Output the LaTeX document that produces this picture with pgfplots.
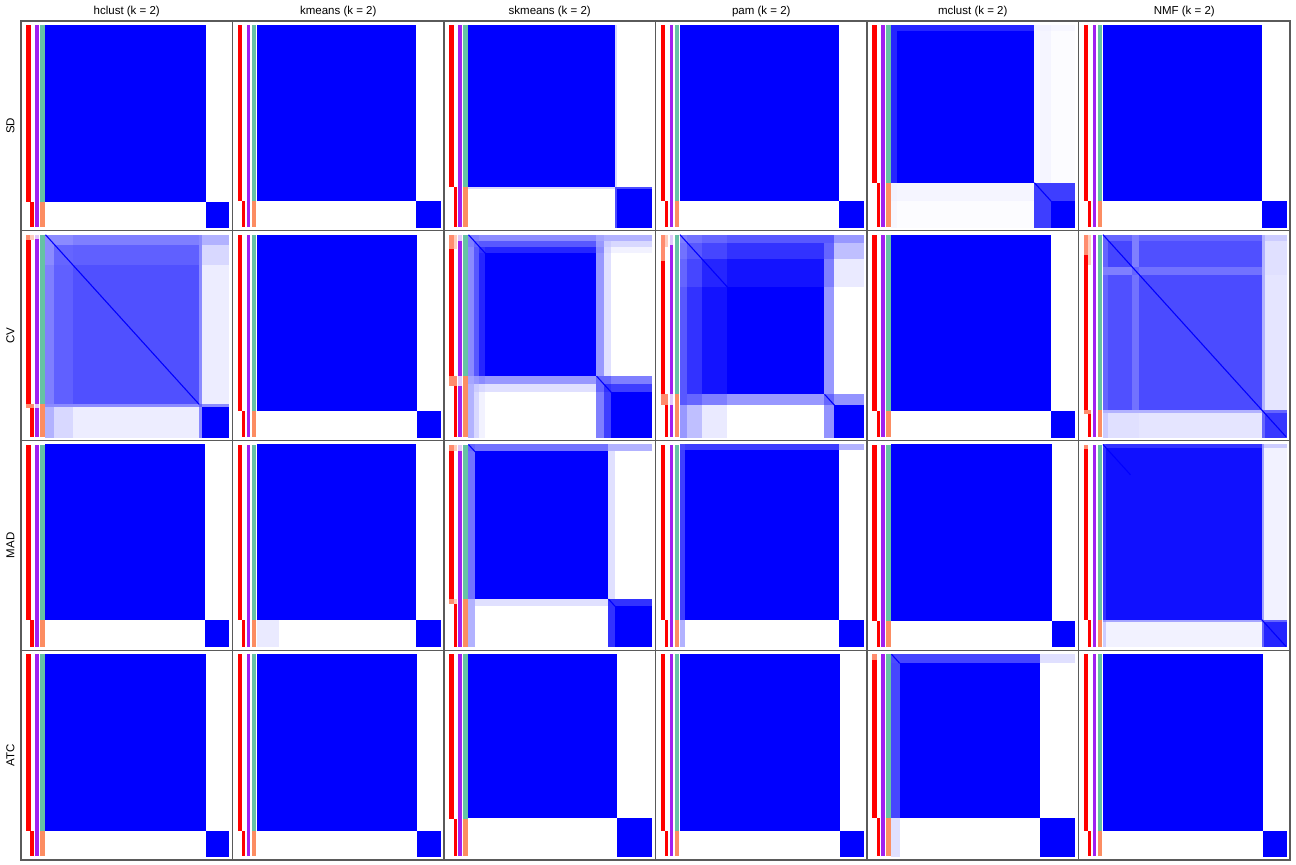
\documentclass[border=0pt]{standalone}
\usepackage{fontspec}
\setmainfont{Liberation Sans}
\usepackage{pgfplots}
\pgfplotsset{compat=1.18}
\usepgfplotslibrary{groupplots}

\definecolor{frame}{RGB}{90,90,90}
\definecolor{cred}{RGB}{255,0,0}
\definecolor{csalmon}{RGB}{255,140,110}
\definecolor{clsalmon}{RGB}{255,205,190}
\definecolor{cpurple}{RGB}{160,32,240}
\definecolor{clpurple}{RGB}{225,200,250}
\definecolor{cgreen}{RGB}{102,194,165}
\definecolor{corange}{RGB}{252,141,98}

% one filled box in heatmap units (x and y run 0..1 over the heatmap)
\newcommand{\annrect}[5]{\addplot[fill=#5, draw=none] coordinates {(#1,#3) (#2,#3) (#2,#4) (#1,#4)} -- cycle;}
% the four annotation columns left of the heatmap
\newcommand{\colA}[3]{\annrect{-0.1040}{-0.0815}{#1}{#2}{#3}}
\newcommand{\colB}[3]{\annrect{-0.0820}{-0.0650}{#1}{#2}{#3}}
\newcommand{\colC}[3]{\annrect{-0.0550}{-0.0378}{#1}{#2}{#3}}
\newcommand{\colD}[3]{\annrect{-0.0276}{-0.0052}{#1}{#2}{#3}}
\newcommand{\annot}[1]{\colA{0}{#1}{cred}\colB{#1}{1}{cred}\colC{0}{1}{cpurple}\colD{0}{#1}{cgreen}\colD{#1}{1}{corange}}
\newcommand{\diag}[2]{\addplot[blue, line width=1.1pt] coordinates {(#1,#1) (#2,#2)};}

\pgfplotsset{hm/.style={surf, shader=flat corner, mesh/cols=#1, point meta=explicit}}

\begin{document}
\begin{tikzpicture}
\begin{groupplot}[
  group style={group size=6 by 4, horizontal sep=0pt, vertical sep=0pt, group name=G},
  width=211.5pt, height=209.75pt, scale only axis,
  xmin=-0.1339, xmax=1.0219, ymin=-0.0198, ymax=1.0186, y dir=reverse,
  xtick=\empty, ytick=\empty,
  axis line style={draw=frame, line width=1.3pt},
  axis on top,
  colormap={wb}{rgb255=(255,255,255) rgb255=(0,0,255)},
  point meta min=0, point meta max=1,
  title style={font=\fontsize{11.5}{13}\selectfont, inner sep=0pt, yshift=-2pt},
  ylabel style={font=\fontsize{11.5}{13}\selectfont, at={(axis description cs:-0.03,0.5)}, anchor=south, inner sep=0pt},
]
% ---------------- SD ----------------
\nextgroupplot[title={hclust (k = 2)}, ylabel={SD}]
\addplot[hm=3] table[meta=c, row sep=\\] {x y c\\
0 0 1\\ .876 0 0\\ 1 0 0\\
0 .876 0\\ .876 .876 1\\ 1 .876 0\\
0 1 0\\ .876 1 0\\ 1 1 0\\};
\annot{.876}

\nextgroupplot[title={kmeans (k = 2)}]
\addplot[hm=3] table[meta=c, row sep=\\] {x y c\\
0 0 1\\ .871 0 0\\ 1 0 0\\
0 .871 0\\ .871 .871 1\\ 1 .871 0\\
0 1 0\\ .871 1 0\\ 1 1 0\\};
\annot{.871}

\nextgroupplot[title={skmeans (k = 2)}]
\addplot[hm=4] table[meta=c, row sep=\\] {x y c\\
0 0 1\\ .803 0 .15\\ .812 0 0\\ 1 0 0\\
0 .803 .15\\ .803 .803 .7\\ .812 .803 .7\\ 1 .803 0\\
0 .812 0\\ .803 .812 .7\\ .812 .812 1\\ 1 .812 0\\
0 1 0\\ .803 1 0\\ .812 1 0\\ 1 1 0\\};
\annot{.803}

\nextgroupplot[title={pam (k = 2)}]
\addplot[hm=3] table[meta=c, row sep=\\] {x y c\\
0 0 1\\ .871 0 0\\ 1 0 0\\
0 .871 0\\ .871 .871 1\\ 1 .871 0\\
0 1 0\\ .871 1 0\\ 1 1 0\\};
\annot{.871}

\nextgroupplot[title={mclust (k = 2)}]
\addplot[hm=5] table[meta=c, row sep=\\] {x y c\\
0 0 .85\\ .03 0 .85\\ .781 0 .05\\ .872 0 .03\\ 1 0 0\\
0 .03 .85\\ .03 .03 1\\ .781 .03 .04\\ .872 .03 .01\\ 1 .03 0\\
0 .781 .05\\ .03 .781 .04\\ .781 .781 .75\\ .872 .781 .75\\ 1 .781 0\\
0 .872 .03\\ .03 .872 .01\\ .781 .872 .75\\ .872 .872 1\\ 1 .872 0\\
0 1 0\\ .03 1 0\\ .781 1 0\\ .872 1 0\\ 1 1 0\\};
\diag{.781}{.872}
\annot{.781}

\nextgroupplot[title={NMF (k = 2)}]
\addplot[hm=3] table[meta=c, row sep=\\] {x y c\\
0 0 1\\ .871 0 0\\ 1 0 0\\
0 .871 0\\ .871 .871 1\\ 1 .871 0\\
0 1 0\\ .871 1 0\\ 1 1 0\\};
\annot{.871}

% ---------------- CV ----------------
\nextgroupplot[ylabel={CV}]
\addplot[hm=6] table[meta=c, row sep=\\] {x y c\\
0 0 .45\\ .05 0 .45\\ .15 0 .5\\ .84 0 .45\\ .855 0 .3\\ 1 0 0\\
0 .05 .45\\ .05 .05 .6\\ .15 .05 .62\\ .84 .05 .45\\ .855 .05 .15\\ 1 .05 0\\
0 .15 .5\\ .05 .15 .62\\ .15 .15 .68\\ .84 .15 .45\\ .855 .15 .07\\ 1 .15 0\\
0 .84 .45\\ .05 .84 .45\\ .15 .84 .45\\ .84 .84 .6\\ .855 .84 .45\\ 1 .84 0\\
0 .855 .3\\ .05 .855 .15\\ .15 .855 .07\\ .84 .855 .45\\ .855 .855 1\\ 1 .855 0\\
0 1 0\\ .05 1 0\\ .15 1 0\\ .84 1 0\\ .855 1 0\\ 1 1 0\\};
\diag{0}{.84}
\annot{.84}
\colA{0}{.025}{csalmon}\colB{0}{.025}{clsalmon}\colC{0}{.02}{clpurple}
\colA{.84}{.857}{csalmon}\colB{.84}{.857}{csalmon}\colC{.84}{.857}{clpurple}

\nextgroupplot
\addplot[hm=3] table[meta=c, row sep=\\] {x y c\\
0 0 1\\ .874 0 0\\ 1 0 0\\
0 .874 0\\ .874 .874 1\\ 1 .874 0\\
0 1 0\\ .874 1 0\\ 1 1 0\\};
\annot{.874}

\nextgroupplot
\addplot[hm=8] table[meta=c, row sep=\\] {x y c\\
0 0 .5\\ .03 0 .5\\ .06 0 .45\\ .09 0 .45\\ .70 0 .35\\ .74 0 .3\\ .78 0 .3\\ 1 0 0\\
0 .03 .5\\ .03 .03 .6\\ .06 .03 .65\\ .09 .03 .65\\ .70 .03 .4\\ .74 .03 .2\\ .78 .03 .15\\ 1 .03 0\\
0 .06 .45\\ .03 .06 .65\\ .06 .06 .8\\ .09 .06 .85\\ .70 .06 .45\\ .74 .06 .15\\ .78 .06 .05\\ 1 .06 0\\
0 .09 .45\\ .03 .09 .65\\ .06 .09 .85\\ .09 .09 1\\ .70 .09 .4\\ .74 .09 .12\\ .78 .09 0\\ 1 .09 0\\
0 .70 .35\\ .03 .70 .4\\ .06 .70 .45\\ .09 .70 .4\\ .70 .70 .6\\ .74 .70 .6\\ .78 .70 .5\\ 1 .70 0\\
0 .74 .3\\ .03 .74 .2\\ .06 .74 .15\\ .09 .74 .12\\ .70 .74 .6\\ .74 .74 .8\\ .78 .74 .75\\ 1 .74 0\\
0 .78 .3\\ .03 .78 .15\\ .06 .78 .05\\ .09 .78 0\\ .70 .78 .5\\ .74 .78 .75\\ .78 .78 1\\ 1 .78 0\\
0 1 0\\ .03 1 0\\ .06 1 0\\ .09 1 0\\ .70 1 0\\ .74 1 0\\ .78 1 0\\ 1 1 0\\};
\diag{0}{.1}\diag{.70}{.78}
\annot{.70}
\colA{0}{.07}{csalmon}\colB{0}{.07}{clsalmon}\colC{0}{.03}{clpurple}
\colA{.70}{.75}{csalmon}\colB{.70}{.75}{csalmon}\colC{.70}{.75}{clpurple}

\nextgroupplot
\addplot[hm=7] table[meta=c, row sep=\\] {x y c\\
0 0 .5\\ .04 0 .55\\ .12 0 .6\\ .26 0 .65\\ .79 0 .65\\ .845 0 .4\\ 1 0 0\\
0 .04 .55\\ .04 .04 .65\\ .12 .04 .72\\ .26 .04 .8\\ .79 .04 .6\\ .845 .04 .25\\ 1 .04 0\\
0 .12 .6\\ .04 .12 .72\\ .12 .12 .85\\ .26 .12 .92\\ .79 .12 .5\\ .845 .12 .08\\ 1 .12 0\\
0 .26 .65\\ .04 .26 .8\\ .12 .26 .92\\ .26 .26 1\\ .79 .26 .4\\ .845 .26 0\\ 1 .26 0\\
0 .79 .65\\ .04 .79 .6\\ .12 .79 .5\\ .26 .79 .4\\ .79 .79 .6\\ .845 .79 .42\\ 1 .79 0\\
0 .845 .4\\ .04 .845 .25\\ .12 .845 .08\\ .26 .845 0\\ .79 .845 .42\\ .845 .845 1\\ 1 .845 0\\
0 1 0\\ .04 1 0\\ .12 1 0\\ .26 1 0\\ .79 1 0\\ .845 1 0\\ 1 1 0\\};
\diag{0}{.26}\diag{.79}{.845}
\annot{.79}
\colA{0}{.13}{csalmon}\colB{0}{.06}{clsalmon}\colC{0}{.05}{clpurple}
\colA{.79}{.845}{csalmon}\colB{.79}{.845}{csalmon}\colC{.79}{.845}{clpurple}

\nextgroupplot
\addplot[hm=3] table[meta=c, row sep=\\] {x y c\\
0 0 1\\ .872 0 0\\ 1 0 0\\
0 .872 0\\ .872 .872 1\\ 1 .872 0\\
0 1 0\\ .872 1 0\\ 1 1 0\\};
\annot{.872}

\nextgroupplot
\addplot[hm=7] table[meta=c, row sep=\\] {x y c\\
0 0 .6\\ .03 0 .6\\ .16 0 .5\\ .2 0 .6\\ .868 0 .3\\ .885 0 .2\\ 1 0 0\\
0 .03 .6\\ .03 .03 .72\\ .16 .03 .5\\ .2 .03 .68\\ .868 .03 .3\\ .885 .03 .12\\ 1 .03 0\\
0 .16 .5\\ .03 .16 .5\\ .16 .16 .6\\ .2 .16 .55\\ .868 .16 .3\\ .885 .16 .12\\ 1 .16 0\\
0 .2 .6\\ .03 .2 .68\\ .16 .2 .55\\ .2 .2 .7\\ .868 .2 .3\\ .885 .2 .1\\ 1 .2 0\\
0 .868 .3\\ .03 .868 .3\\ .16 .868 .3\\ .2 .868 .3\\ .868 .868 .6\\ .885 .868 .6\\ 1 .868 0\\
0 .885 .2\\ .03 .885 .12\\ .16 .885 .12\\ .2 .885 .1\\ .868 .885 .6\\ .885 .885 .78\\ 1 .885 0\\
0 1 0\\ .03 1 0\\ .16 1 0\\ .2 1 0\\ .868 1 0\\ .885 1 0\\ 1 1 0\\};
\diag{0}{1}
\annot{.868}
\colA{0}{.1}{csalmon}\colB{0}{.15}{clsalmon}
\colA{.868}{.885}{csalmon}\colB{.868}{.885}{csalmon}

% ---------------- MAD ----------------
\nextgroupplot[ylabel={MAD}]
\addplot[hm=3] table[meta=c, row sep=\\] {x y c\\
0 0 1\\ .871 0 0\\ 1 0 0\\
0 .871 0\\ .871 .871 1\\ 1 .871 0\\
0 1 0\\ .871 1 0\\ 1 1 0\\};
\annot{.871}

\nextgroupplot
\addplot[hm=4] table[meta=c, row sep=\\] {x y c\\
0 0 1\\ .12 0 1\\ .871 0 0\\ 1 0 0\\
0 .12 1\\ .12 .12 1\\ .871 .12 0\\ 1 .12 0\\
0 .871 .08\\ .12 .871 0\\ .871 .871 1\\ 1 .871 0\\
0 1 0\\ .12 1 0\\ .871 1 0\\ 1 1 0\\};
\annot{.871}

\nextgroupplot
\addplot[hm=5] table[meta=c, row sep=\\] {x y c\\
0 0 .6\\ .035 0 .55\\ .765 0 .3\\ .80 0 .3\\ 1 0 0\\
0 .035 .55\\ .035 .035 1\\ .765 .035 .12\\ .80 .035 0\\ 1 .035 0\\
0 .765 .3\\ .035 .765 .12\\ .765 .765 .8\\ .80 .765 .8\\ 1 .765 0\\
0 .80 .3\\ .035 .80 0\\ .765 .80 .8\\ .80 .80 1\\ 1 .80 0\\
0 1 0\\ .035 1 0\\ .765 1 0\\ .80 1 0\\ 1 1 0\\};
\diag{0}{.04}\diag{.765}{.81}
\annot{.766}
\colA{0}{.03}{csalmon}\colB{0}{.03}{clsalmon}\colC{0}{.03}{clpurple}
\colA{.766}{.79}{csalmon}\colB{.766}{.79}{clsalmon}

\nextgroupplot
\addplot[hm=4] table[meta=c, row sep=\\] {x y c\\
0 0 .7\\ .03 0 .75\\ .871 0 .3\\ 1 0 0\\
0 .03 .75\\ .03 .03 1\\ .871 .03 0\\ 1 .03 0\\
0 .871 .3\\ .03 .871 0\\ .871 .871 1\\ 1 .871 0\\
0 1 0\\ .03 1 0\\ .871 1 0\\ 1 1 0\\};
\annot{.871}

\nextgroupplot
\addplot[hm=3] table[meta=c, row sep=\\] {x y c\\
0 0 1\\ .876 0 0\\ 1 0 0\\
0 .876 0\\ .876 .876 1\\ 1 .876 0\\
0 1 0\\ .876 1 0\\ 1 1 0\\};
\annot{.876}

\nextgroupplot
\addplot[hm=5] table[meta=c, row sep=\\] {x y c\\
0 0 .75\\ .02 0 .8\\ .868 0 .4\\ .88 0 .2\\ 1 0 0\\
0 .02 .8\\ .02 .02 .93\\ .868 .02 .35\\ .88 .02 .05\\ 1 .02 0\\
0 .868 .4\\ .02 .868 .35\\ .868 .868 .6\\ .88 .868 .6\\ 1 .868 0\\
0 .88 .2\\ .02 .88 .05\\ .868 .88 .6\\ .88 .88 .85\\ 1 .88 0\\
0 1 0\\ .02 1 0\\ .868 1 0\\ .88 1 0\\ 1 1 0\\};
\diag{0}{.15}\diag{.868}{1}
\annot{.868}
\colA{0}{.02}{csalmon}

% ---------------- ATC ----------------
\nextgroupplot[ylabel={ATC}]
\addplot[hm=3] table[meta=c, row sep=\\] {x y c\\
0 0 1\\ .876 0 0\\ 1 0 0\\
0 .876 0\\ .876 .876 1\\ 1 .876 0\\
0 1 0\\ .876 1 0\\ 1 1 0\\};
\annot{.876}

\nextgroupplot
\addplot[hm=3] table[meta=c, row sep=\\] {x y c\\
0 0 1\\ .876 0 0\\ 1 0 0\\
0 .876 0\\ .876 .876 1\\ 1 .876 0\\
0 1 0\\ .876 1 0\\ 1 1 0\\};
\annot{.876}

\nextgroupplot
\addplot[hm=3] table[meta=c, row sep=\\] {x y c\\
0 0 1\\ .814 0 0\\ 1 0 0\\
0 .814 0\\ .814 .814 1\\ 1 .814 0\\
0 1 0\\ .814 1 0\\ 1 1 0\\};
\annot{.814}

\nextgroupplot
\addplot[hm=3] table[meta=c, row sep=\\] {x y c\\
0 0 1\\ .876 0 0\\ 1 0 0\\
0 .876 0\\ .876 .876 1\\ 1 .876 0\\
0 1 0\\ .876 1 0\\ 1 1 0\\};
\annot{.876}

\nextgroupplot
\addplot[hm=4] table[meta=c, row sep=\\] {x y c\\
0 0 .7\\ .045 0 .72\\ .813 0 .12\\ 1 0 0\\
0 .045 .72\\ .045 .045 1\\ .813 .045 0\\ 1 .045 0\\
0 .813 .12\\ .045 .813 0\\ .813 .813 1\\ 1 .813 0\\
0 1 0\\ .045 1 0\\ .813 1 0\\ 1 1 0\\};
\diag{0}{.045}
\annot{.813}
\colA{0}{.03}{csalmon}

\nextgroupplot
\addplot[hm=3] table[meta=c, row sep=\\] {x y c\\
0 0 1\\ .876 0 0\\ 1 0 0\\
0 .876 0\\ .876 .876 1\\ 1 .876 0\\
0 1 0\\ .876 1 0\\ 1 1 0\\};
\annot{.876}
\end{groupplot}
\path ([shift={(-21pt,21pt)}]G c1r1.north west) rectangle ([shift={(6pt,-4pt)}]G c6r4.south east);
\end{tikzpicture}
\end{document}
